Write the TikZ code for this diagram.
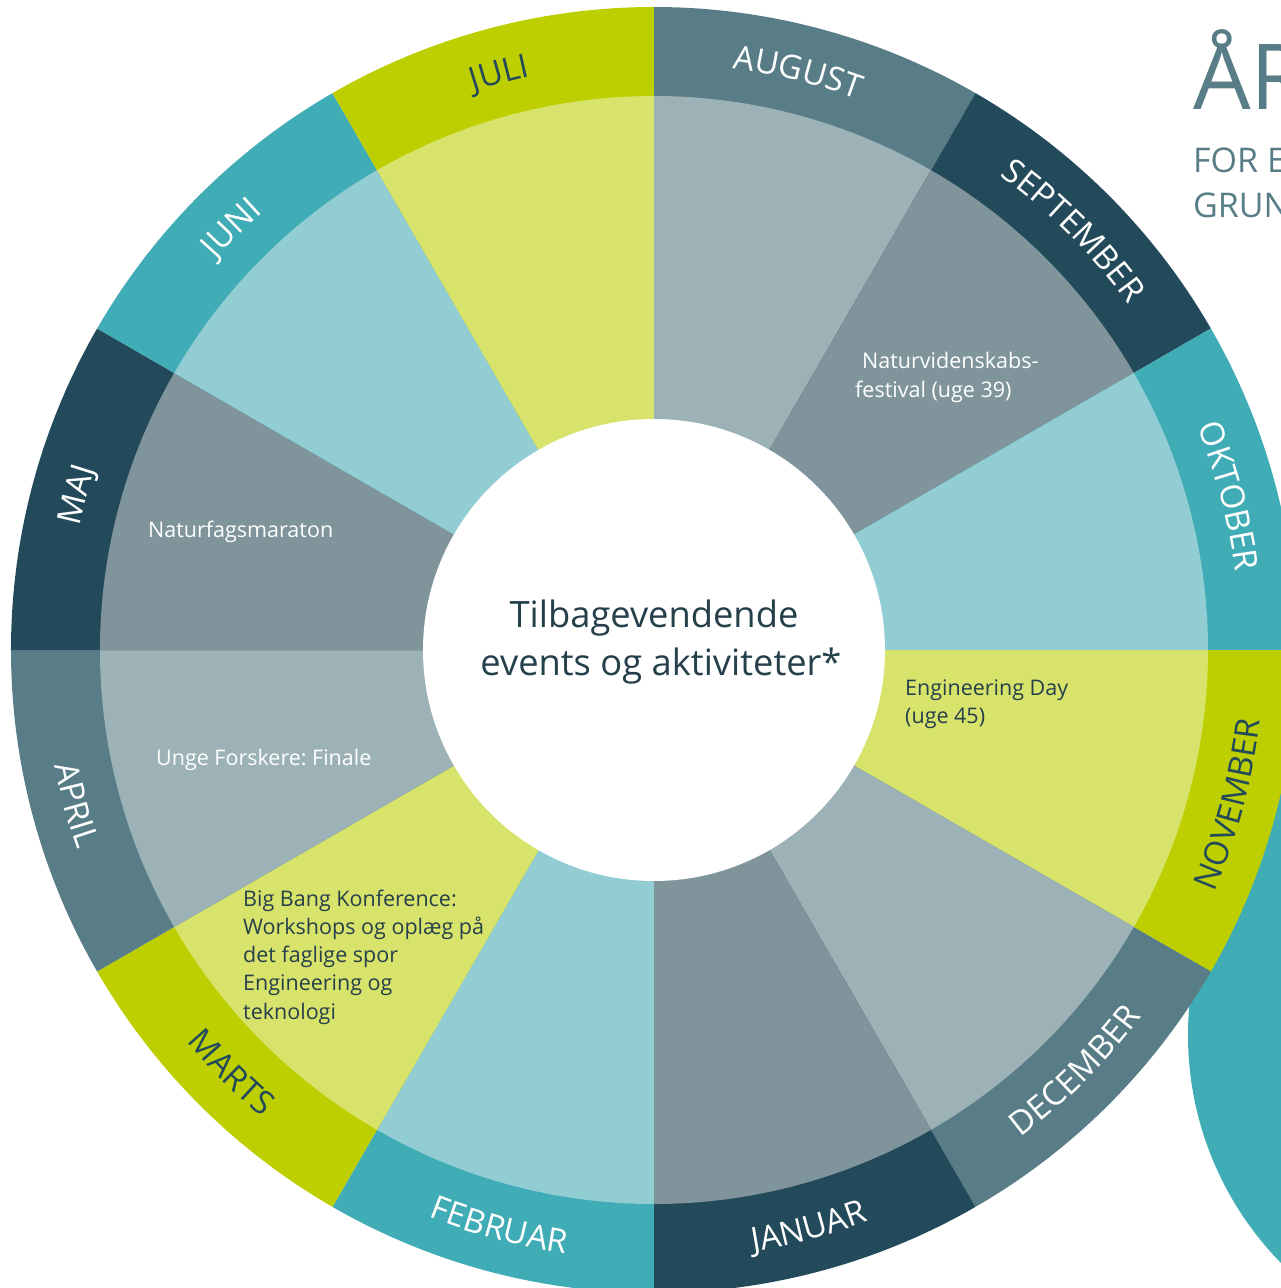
\documentclass[tikz,border=0pt]{standalone}
\usepackage{fontspec}
\setmainfont{Open Sans}
\frenchspacing
\usetikzlibrary{decorations.text}
\definecolor{cSlate}{HTML}{587D87}
\definecolor{cDark}{HTML}{234A5A}
\definecolor{cTeal}{HTML}{40ACB6}
\definecolor{cLime}{HTML}{BDCF00}
\definecolor{cSlateL}{HTML}{9CB2B7}
\definecolor{cDarkL}{HTML}{7F959B}
\definecolor{cTealL}{HTML}{91CDD3}
\definecolor{cLimeL}{HTML}{D8E36B}
\definecolor{cText}{HTML}{253F4B}
\newcommand{\monthfont}{\fontsize{33}{33}\selectfont}
% sector: start angle, outer colour, inner colour
\newcommand{\wheelsector}[3]{%
  \fill[#2] (0,0) -- ({#1}:643pt) arc[start angle={#1}, end angle={#1-30}, radius=643pt] -- cycle;
  \fill[#3] (0,0) -- ({#1}:554pt) arc[start angle={#1}, end angle={#1-30}, radius=554pt] -- cycle;}
% month label on upper half (tops outward)
\newcommand{\monthtop}[3]{%
  \path[decorate, decoration={text along path, text={|\monthfont|#2}, text color=#3, text align=center}]
    ({#1+15}:587pt) arc[start angle={#1+15}, end angle={#1-15}, radius=587pt];}
% month label on lower half (tops inward)
\newcommand{\monthbot}[3]{%
  \path[decorate, decoration={text along path, text={|\monthfont|#2}, text color=#3, text align=center}]
    ({#1-15}:610pt) arc[start angle={#1-15}, end angle={#1+15}, radius=610pt];}
\begin{document}
\begin{tikzpicture}[x=1pt,y=1pt,
  evlabel/.style={anchor=base west, inner sep=0pt, font=\fontsize{21.5}{28}\selectfont},
  hubline/.style={anchor=base, inner sep=0pt, text=cText, font=\fontsize{36.3}{48}\selectfont},
  titlebig/.style={anchor=base west, inner sep=0pt, text=cSlate, font=\fontsize{91}{91}\selectfont},
  titlesub/.style={anchor=base west, inner sep=0pt, text=cSlate, font=\fontsize{34}{46}\selectfont}]
\useasboundingbox (-654,-638) rectangle (627,650);
\clip (-654,-638) rectangle (627,650);
% background blob
\fill[cTeal] (860,-385) circle[radius=326pt];
\fill[cTeal] (627,-130) -- (627,-230) -- (586,-230) -- cycle;
% wheel
\wheelsector{90}{cSlate}{cSlateL}
\wheelsector{60}{cDark}{cDarkL}
\wheelsector{30}{cTeal}{cTealL}
\wheelsector{0}{cLime}{cLimeL}
\wheelsector{-30}{cSlate}{cSlateL}
\wheelsector{-60}{cDark}{cDarkL}
\wheelsector{-90}{cTeal}{cTealL}
\wheelsector{-120}{cLime}{cLimeL}
\wheelsector{-150}{cSlate}{cSlateL}
\wheelsector{-180}{cDark}{cDarkL}
\wheelsector{-210}{cTeal}{cTealL}
\wheelsector{-240}{cLime}{cLimeL}
% hub
\node[circle, fill=white, minimum size=462pt, inner sep=0pt] (hub) at (0,0) {};
\node[hubline] (hub1) at (0,23) {Tilbagevendende};
\node[hubline] (hub2) at (7,-25) {events og aktiviteter*};
% months
\monthtop{76}{AUGUST}{white}
\monthtop{45}{SEPTEMBER}{white}
\monthtop{15}{OKTOBER}{white}
\monthbot{-15}{NOVEMBER}{cDark}
\monthbot{-45}{DECEMBER}{white}
\monthbot{-75}{JANUAR}{white}
\monthbot{-105}{FEBRUAR}{white}
\monthbot{-135}{MARTS}{cDark}
\monthbot{-165}{APRIL}{white}
\monthtop{165}{MAJ}{white}
\monthtop{135}{JUNI}{white}
\monthtop{105}{JULI}{cDark}
% events
\node[evlabel, text=white] (nv1) at (208,281) {Naturvidenskabs-};
\node[evlabel, text=white] (nv2) at (201,252) {festival (uge 39)};
\node[evlabel, text=cText] (ed1) at (251,-45) {Engineering Day};
\node[evlabel, text=cText] (ed2) at (251,-73) {(uge 45)};
\node[evlabel, text=white] (nm) at (-506,113) {Naturfagsmaraton};
\node[evlabel, text=white] (uf) at (-498,-115) {Unge Forskere: Finale};
\node[evlabel, text=cText] (bb1) at (-411,-256) {Big Bang Konference:};
\node[evlabel, text=cText] (bb2) at (-411,-284.3) {Workshops og oplæg på};
\node[evlabel, text=cText] (bb3) at (-411,-312.6) {det faglige spor};
\node[evlabel, text=cText] (bb4) at (-411,-340.9) {Engineering og};
\node[evlabel, text=cText] (bb5) at (-411,-369.2) {teknologi};
% title
\node[titlebig] (title) at (539,540) {ÅR};
\node[titlesub] (sub1) at (539,477) {FOR E};
\node[titlesub] (sub2) at (539,432) {GRUN};
\end{tikzpicture}
\end{document}
